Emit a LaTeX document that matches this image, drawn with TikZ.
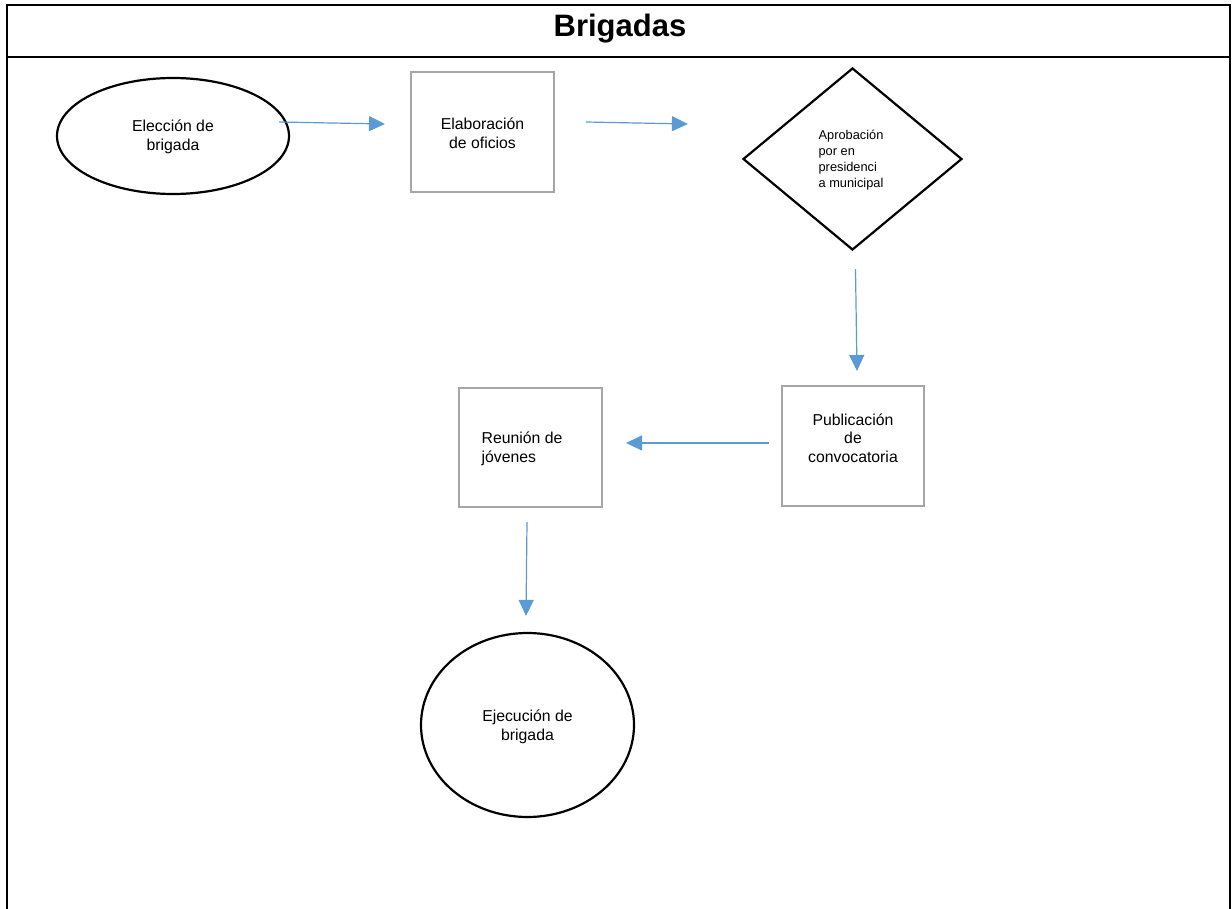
\documentclass[tikz,border=0pt]{standalone}
\usepackage{fontspec}
\setmainfont{Liberation Sans}
\usetikzlibrary{shapes.geometric,arrows.meta,calc}
\definecolor{arrowblue}{HTML}{5B9BD5}
\definecolor{boxgray}{HTML}{A6A6A6}
\tikzset{
  body/.style={font=\fontsize{15.8}{18.5}\selectfont, inner sep=0pt},
  small/.style={font=\fontsize{12.8}{16}\selectfont, inner sep=0pt, align=left},
  oval/.style={ellipse, draw=black, line width=2.2pt, inner sep=0pt},
  procbox/.style={rectangle, draw=boxgray, line width=2pt, inner sep=0pt},
  decision/.style={diamond, draw=black, line width=2.2pt, inner sep=0pt},
  flow/.style={draw=arrowblue, line width=1.2pt, -{Triangle[length=16pt,width=15pt]}},
  frameline/.style={draw=black, line width=1.6pt}
}
\begin{document}
\begin{tikzpicture}[x=1pt,y=-1pt]
\useasboundingbox (0,0) rectangle (1232,909);
\fill[white] (0,0) rectangle (1232,909);
% frame
\coordinate (tl) at (7,5);
\coordinate (tr) at (1230,5);
\coordinate (bl) at (7,909);
\coordinate (br) at (1230,909);
\coordinate (ml) at (7,57);
\coordinate (mr) at (1230,57);
\draw[frameline] (bl) -- (tl) -- (tr) -- (br);
\draw[frameline] (ml) -- (mr);
\node[font=\bfseries\fontsize{31}{36}\selectfont, inner sep=0pt] (title) at (620,29) {Brigadas};

% shapes
\node[oval, minimum width=232pt, minimum height=116pt] (e1) at (173,136) {};
\node[body, align=center] (t1) at (173,137) {Elección de\\brigada};

\node[procbox, minimum width=143pt, minimum height=120pt] (b1) at (482.5,132) {};
\node[body, align=center] (t2) at (482.5,133.5) {Elaboración\\de oficios};

\node[decision, minimum width=219pt, minimum height=182pt] (d) at (852.5,159) {};
\node[small] (t3) at (851,160) {Aprobación\\por en\\presidenci\\a municipal};

\node[procbox, minimum width=142pt, minimum height=120pt] (b2) at (853,446) {};
\node[body, align=center] (t4) at (853,438) {Publicación\\de\\convocatoria};

\node[procbox, minimum width=143pt, minimum height=119pt] (b3) at (530.5,447.5) {};
\node[body, align=left] (t5) at (522,449) {Reunión de\\jóvenes};

\node[oval, minimum width=213pt, minimum height=184pt] (e2) at (527.5,725) {};
\node[body, align=center] (t6) at (527.5,727) {Ejecución de\\brigada};

% connectors
\draw[flow] ($(e1.east)+(-11,-14)$) -- ($(b1.west)+(-25,-8)$);
\draw[flow] ($(b1.east)+(31,-10)$) -- ($(d.west)+(-54,-35)$);
\draw[flow] ($(d.south)+(3,18)$) -- ($(b2.north)+(4,-14)$);
\draw[flow] ($(b2.west)+(-12,-3)$) -- ($(b3.east)+(23,-4.5)$);
\draw[flow] ($(b3.south)+(-3.5,14)$) -- ($(e2.north)+(-1.5,-16)$);
\end{tikzpicture}
\end{document}
